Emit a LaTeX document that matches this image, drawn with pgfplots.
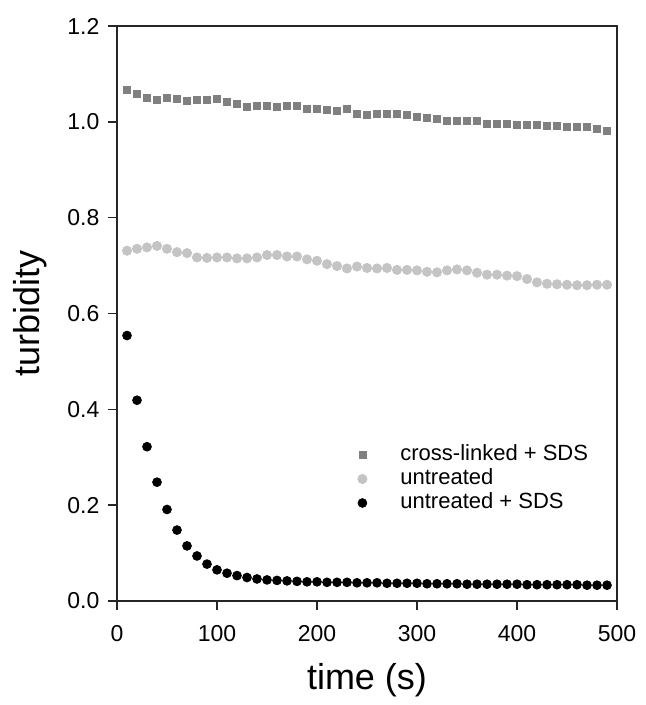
\documentclass[border=0pt]{standalone}
\usepackage{fontspec}
\setmainfont{Liberation Sans}
\usepackage{pgfplots}
\pgfplotsset{compat=1.18}
\usepackage{pgfplotstable}

\definecolor{xlgray}{RGB}{128,128,128}
\definecolor{utgray}{RGB}{196,196,196}

% time (s), cross-linked + SDS, untreated, untreated + SDS
\pgfplotstableread{
t   xl     ut     uts
10  1.067  0.731  0.554
20  1.058  0.735  0.419
30  1.049  0.738  0.322
40  1.046  0.741  0.248
50  1.049  0.735  0.191
60  1.048  0.728  0.148
70  1.043  0.726  0.115
80  1.045  0.717  0.094
90  1.045  0.716  0.077
100 1.048  0.717  0.065
110 1.042  0.717  0.058
120 1.037  0.715  0.053
130 1.031  0.715  0.049
140 1.034  0.717  0.046
150 1.033  0.722  0.044
160 1.031  0.722  0.043
170 1.033  0.719  0.042
180 1.033  0.719  0.041
190 1.026  0.713  0.040
200 1.026  0.710  0.040
210 1.024  0.703  0.039
220 1.022  0.699  0.039
230 1.028  0.694  0.039
240 1.017  0.698  0.038
250 1.015  0.695  0.038
260 1.017  0.694  0.038
270 1.017  0.695  0.037
280 1.017  0.691  0.037
290 1.015  0.691  0.037
300 1.010  0.690  0.037
310 1.008  0.687  0.036
320 1.006  0.686  0.036
330 1.001  0.690  0.036
340 1.001  0.692  0.036
350 1.001  0.690  0.035
360 1.001  0.685  0.035
370 0.996  0.681  0.035
380 0.995  0.681  0.035
390 0.995  0.679  0.035
400 0.993  0.678  0.035
410 0.993  0.672  0.034
420 0.993  0.665  0.034
430 0.992  0.662  0.034
440 0.992  0.661  0.034
450 0.989  0.660  0.034
460 0.989  0.659  0.034
470 0.989  0.659  0.033
480 0.986  0.660  0.033
490 0.982  0.660  0.033
}\turb

\begin{document}
\begin{tikzpicture}
\begin{axis}[
    scale only axis,
    width=250pt, height=287.5pt,
    xmin=0, xmax=500, ymin=0, ymax=1.2,
    xtick={0,100,...,500},
    ytick={0,0.2,...,1.2},
    xtick pos=bottom, ytick pos=left,
    tick align=outside,
    major tick length=4.25pt,
    axis line style={line width=0.8pt, black!85},
    every tick/.style={line width=0.8pt, black!85},
    /pgf/number format/assume math mode=true,
    yticklabel style={/pgf/number format/fixed, /pgf/number format/fixed zerofill, /pgf/number format/precision=1, font=\fontsize{11.5}{13}\selectfont, xshift=-1pt},
    xticklabel style={font=\fontsize{11.5}{13}\selectfont, yshift=-4.5pt},
    xlabel={time (s)},
    ylabel={turbidity},
    label style={font=\fontsize{18}{21}\selectfont},
    xlabel style={at={(axis description cs:0.5,-0.137)}, anchor=center},
    ylabel style={at={(axis description cs:-0.174,0.5)}, anchor=center, rotate=0},
    legend cell align=left,
    legend image code/.code={\path[draw=none, fill=none] (0pt,0pt) -- (23pt,0pt); \draw[#1, only marks] plot coordinates {(4pt,0pt)};},
    legend style={draw=none, fill=none, at={(axis description cs:0.474,0.272)}, anchor=north west,
        inner sep=0pt, row sep=2pt,
        nodes={inner sep=0pt, text height=8pt, text depth=2pt},
        font=\fontsize{11}{13}\selectfont},
]
\addplot[only marks, mark=square*, mark size=1.75pt, draw=none, mark options={draw=xlgray, fill=xlgray}] table[x=t, y=xl] {\turb};
\addlegendentry{cross-linked + SDS}
\addplot[only marks, mark=*, mark size=2.3pt, draw=none, mark options={draw=utgray, fill=utgray}] table[x=t, y=ut] {\turb};
\addlegendentry{untreated}
\addplot[only marks, mark=*, mark size=2.2pt, draw=none, mark options={draw=black, fill=black}] table[x=t, y=uts] {\turb};
\addlegendentry{untreated + SDS}
\end{axis}
\pgfresetboundingbox
\path (-58.5pt,-52pt) rectangle (264pt,300.5pt);
\end{tikzpicture}
\end{document}
